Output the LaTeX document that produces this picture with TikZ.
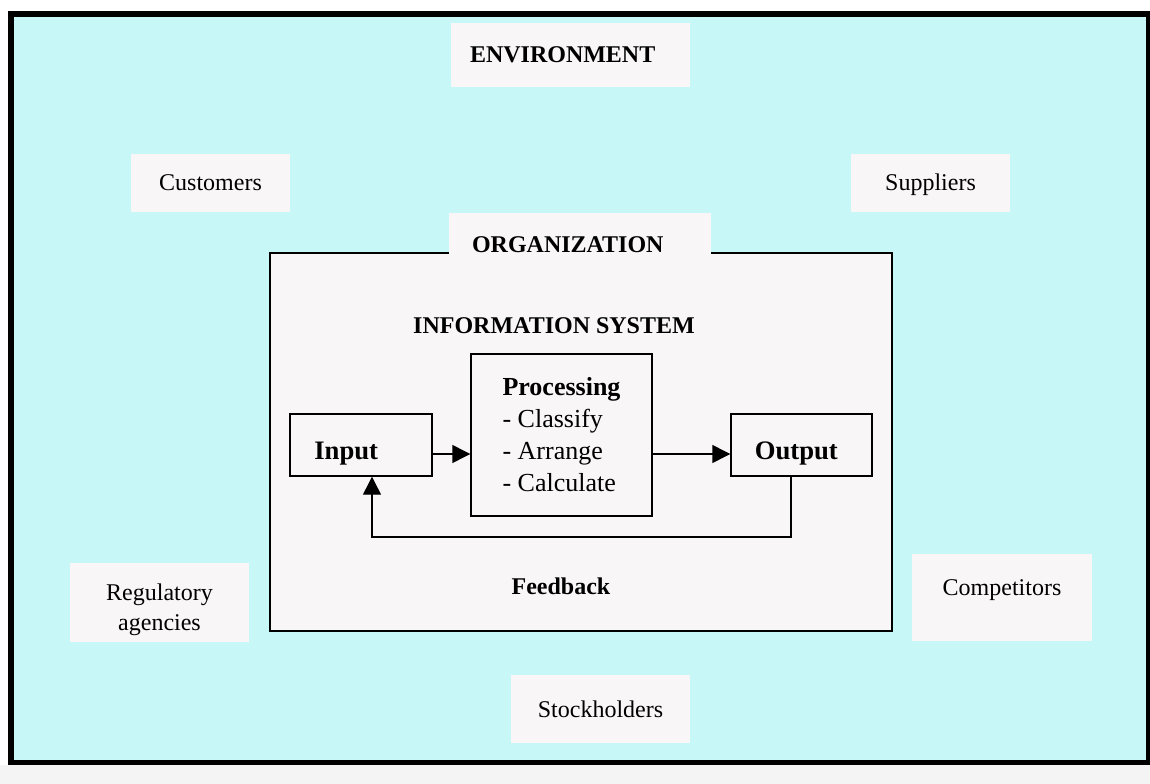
\documentclass[tikz,border=0pt]{standalone}
\usepackage{fontspec}
\setmainfont{Liberation Serif}
\usetikzlibrary{arrows.meta}
\definecolor{pagebg}{RGB}{244,244,244}
\definecolor{envcyan}{RGB}{199,247,246}
\definecolor{labelbg}{RGB}{248,246,246}
\begin{document}
\begin{tikzpicture}[x=0.75pt,y=-0.75pt,
  envlabel/.style={rectangle, fill=labelbg, inner sep=0pt, font=\fontsize{18}{22.5}\selectfont, text height=14pt, text depth=2pt},
  block/.style={rectangle, draw=black, line width=1.1pt, fill=labelbg, inner sep=0pt},
  flow/.style={draw=black, line width=1.1pt, -{Triangle[length=13.5pt,width=13.5pt]}},
  title/.style={font=\fontsize{18}{22}\selectfont\bfseries, anchor=base, inner sep=0pt}]
\fill[white] (0,0) rectangle (1150,784);
\fill[pagebg] (0,765) rectangle (1150,784);
\useasboundingbox (0,0) rectangle (1150,784);

% environment frame
\draw[line width=4pt, fill=envcyan] (11,14) rectangle (1149,762.5);

% environment title and actors
\node[envlabel, minimum width=239*0.75pt, minimum height=64*0.75pt, font=\fontsize{18}{22}\selectfont\bfseries,
      text width=150.75pt, align=left, inner xsep=14.25pt, text height=14pt, text depth=3pt] (env) at (570.5,55) {ENVIRONMENT};
\node[envlabel, minimum width=159*0.75pt, minimum height=58*0.75pt] (cust) at (210.5,183) {Customers};
\node[envlabel, minimum width=159*0.75pt, minimum height=58*0.75pt] (supp) at (930.5,183) {Suppliers};
\node[envlabel, minimum width=179*0.75pt, minimum height=79*0.75pt, text height=30pt, text depth=11pt] (reg) at (159.5,602.5)
  {\begin{tabular}{@{}c@{}}Regulatory\\agencies\end{tabular}};
\node[envlabel, minimum width=180*0.75pt, minimum height=87*0.75pt, text depth=17pt] (comp) at (1002,597.5) {Competitors};
\node[envlabel, minimum width=179*0.75pt, minimum height=68*0.75pt] (stock) at (600.5,709) {Stockholders};

% organization frame with its tab label
\node[rectangle, draw=black, line width=2.2pt, fill=labelbg, minimum width=622*0.75pt, minimum height=378*0.75pt, inner sep=0pt] (org) at (581,442) {};
\node[envlabel, minimum width=262*0.75pt, minimum height=61*0.75pt, font=\fontsize{18}{22}\selectfont\bfseries,
      text width=162pt, align=left, inner xsep=17.25pt, text height=14pt, text depth=0pt] (orglbl) at (580,243.5) {ORGANIZATION};

% information system
\node[title] (is) at (554,334) {INFORMATION SYSTEM};

\node[block, minimum width=181*0.75pt, minimum height=162*0.75pt, align=left,
      font=\fontsize{19.5}{24}\selectfont] (proc) at (561.5,435)
  {{\bfseries Processing}\\- Classify\\- Arrange\\- Calculate};
\node[block, minimum width=142*0.75pt, minimum height=62*0.75pt, text width=70pt, align=left,
      inner xsep=18pt, font=\fontsize{20}{24}\selectfont\bfseries, text height=26pt, text depth=4.4pt] (inbox) at (361,445) {Input};
\node[block, minimum width=141*0.75pt, minimum height=62*0.75pt, text width=70pt, align=left,
      inner xsep=17pt, font=\fontsize{20}{24}\selectfont\bfseries, text height=26pt, text depth=4.4pt] (outbox) at (801.5,445) {Output};

% data flow
\coordinate (row) at (0,454);
\draw[flow] (inbox.east |- row) -- (proc.west |- row);
\draw[flow] (proc.east |- row) -- (outbox.west |- row);

% feedback loop
\coordinate (fbR) at (791,537);
\coordinate (fbL) at (372,537);
\draw[flow] (outbox.south -| fbR) -- (fbR) -- (fbL) -- (inbox.south -| fbL);
\node[title] (fb) at (561,594) {Feedback};
\end{tikzpicture}
\end{document}
